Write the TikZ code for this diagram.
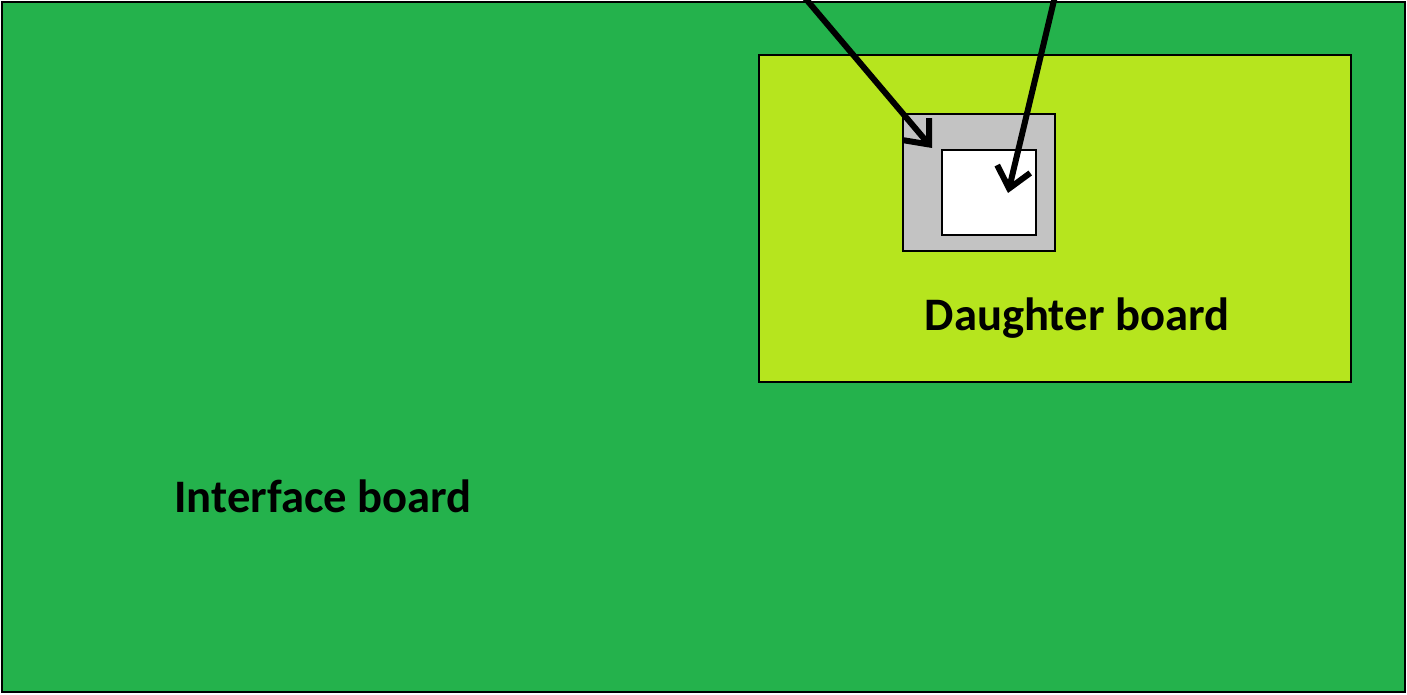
\documentclass[tikz,border=0pt]{standalone}
\usepackage{fontspec}
\setmainfont{Carlito}
\usetikzlibrary{arrows.meta}
\definecolor{ifgreen}{RGB}{36,178,76}
\definecolor{dblime}{RGB}{182,229,30}
\definecolor{chipgray}{RGB}{195,195,195}
\begin{document}
\begin{tikzpicture}[x=0.5pt,y=-0.5pt,
  board/.style={draw=black,line width=1pt},
  lbl/.style={font=\fontsize{23.3}{28}\selectfont\bfseries,text=black,inner sep=0pt},
  pointer/.style={draw=black,line width=3pt,line cap=round,-{Straight Barb[length=10pt,width=17pt,line width=3pt]}}]
\useasboundingbox (0,0) rectangle (1407,695);
\path[board,fill=ifgreen] (2,2) rectangle (1405,692);
\path[board,fill=dblime] (759,55) rectangle (1351,382);
\path[board,fill=chipgray] (903,114) rectangle (1055,251);
\path[board,fill=white] (942,150) rectangle (1036,235);
\node[lbl] (db) at (1077,318) {Daughter board};
\node[lbl] (ib) at (323,496) {Interface board};
\coordinate (s1) at (800,-8);
\coordinate (t1) at (932,148);
\coordinate (s2) at (1056,-8);
\coordinate (t2) at (1008,193);
\draw[pointer] (s1) -- (t1);
\draw[pointer] (s2) -- (t2);
\end{tikzpicture}
\end{document}
